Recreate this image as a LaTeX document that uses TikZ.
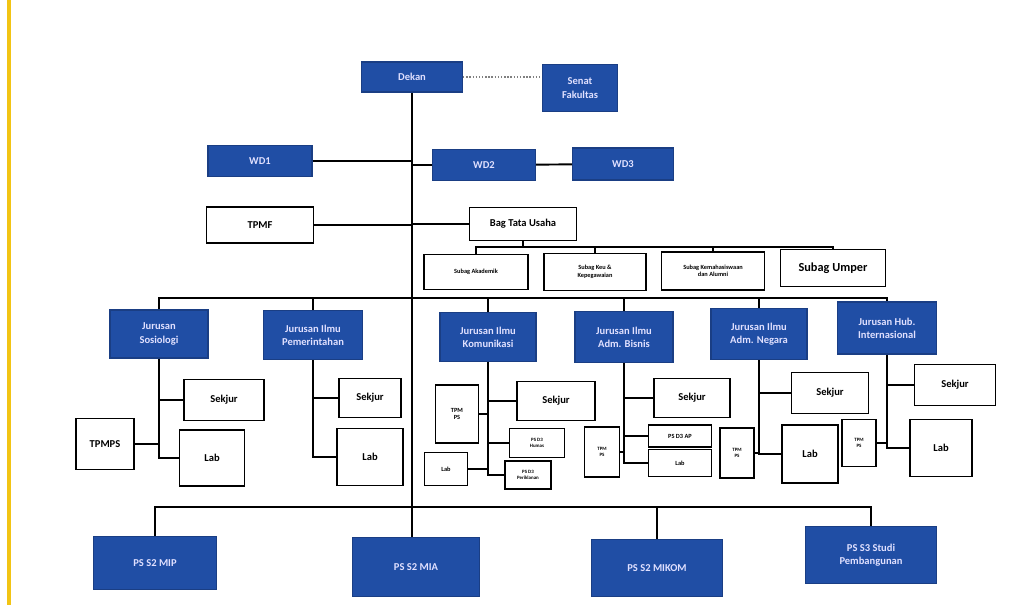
\documentclass[tikz,border=0pt]{standalone}
\usepackage{fontspec}
\setmainfont{Carlito}
\usetikzlibrary{calc}
\definecolor{orgblue}{RGB}{32,78,165}
\definecolor{edgeyel}{RGB}{242,196,20}

\tikzset{
	sz/.style 2 args={minimum width=#1*0.02cm, minimum height=#2*0.02cm},
	bluebox/.style={draw=orgblue!80!black, line width=0.6pt, fill=orgblue, text=white!88!blue, align=center, inner sep=1pt, font=\bfseries\fontsize{6}{7.5}\selectfont},
	whitebox/.style={draw, line width=1pt, fill=white, align=center, inner sep=1pt, font=\bfseries\fontsize{6}{7.5}\selectfont},
	smalltxt/.style={font=\bfseries\fontsize{3.6}{4.3}\selectfont},
	tinytxt/.style={font=\bfseries\fontsize{2.8}{3.4}\selectfont},
	link/.style={line width=1.1pt}
}

\begin{document}
\begin{tikzpicture}[x=0.02cm, y=-0.02cm]
\useasboundingbox (0,0) rectangle (1010,605);
\draw[line width=2pt, edgeyel] (9,0) -- (9,605);

% pimpinan
\node[bluebox, sz={101}{30}] (dekan) at (412,77) {Dekan};
\node[bluebox, sz={75}{47}] (senat) at (580,88) {Senat\\Fakultas};
\node[bluebox, sz={104}{31}] (wd1) at (260,161) {WD1};
\node[bluebox, sz={103}{31}] (wd2) at (484,165) {WD2};
\node[bluebox, sz={101}{32}] (wd3) at (623,164) {WD3};
\node[whitebox, sz={107}{36}] (tpmf) at (260,225) {TPMF};
\node[whitebox, sz={107}{33}] (btu) at (523,224) {Bag Tata Usaha};

% subbag
\node[whitebox, smalltxt, sz={104}{35}] (sakad) at (476,272) {Subag Akademik};
\node[whitebox, smalltxt, sz={102}{37}] (skeu) at (595,272) {Subag Keu \&\\Kepegawaian};
\node[whitebox, smalltxt, sz={103}{38}] (smhs) at (713,271) {Subag Kemahasiswaan\\dan Alumni};
\node[whitebox, font=\bfseries\fontsize{7}{8}\selectfont, sz={105}{37}] (sumper) at (833,268) {Subag Umper};

% jurusan
\node[bluebox, sz={98}{48}] (jsos) at (159,334) {Jurusan\\Sosiologi};
\node[bluebox, sz={99}{49}] (jpem) at (313,335) {Jurusan Ilmu\\Pemerintahan};
\node[bluebox, sz={96}{49}] (jkom) at (488,337) {Jurusan Ilmu\\Komunikasi};
\node[bluebox, sz={98}{51}] (jbis) at (624,337) {Jurusan Ilmu\\Adm. Bisnis};
\node[bluebox, sz={96}{51}] (jneg) at (759,334) {Jurusan Ilmu\\Adm. Negara};
\node[bluebox, sz={99}{52}] (jhi) at (887,328) {Jurusan Hub.\\Internasional};

% unit jurusan
\node[whitebox, sz={80}{41}] (sossek) at (224,400) {Sekjur};
\node[whitebox, sz={65}{56}] (soslab) at (212,458) {Lab};
\node[whitebox, sz={58}{51}] (tpmps) at (105,444) {TPMPS};
\node[whitebox, sz={62}{39}] (pemsek) at (370,398) {Sekjur};
\node[whitebox, sz={66}{57}] (pemlab) at (370,457) {Lab};
\node[whitebox, smalltxt, sz={43}{58}] (komtpm) at (457,414) {TPM\\PS};
\node[whitebox, sz={78}{39}] (komsek) at (556,401) {Sekjur};
\node[whitebox, tinytxt, sz={55}{29}] (komhms) at (537,443) {PS D3\\Humas};
\node[whitebox, smalltxt, sz={43}{33}] (komlab) at (446,469) {Lab};
\node[whitebox, tinytxt, sz={46}{28}] (komikl) at (528,475) {PS D3\\Periklanan};
\node[whitebox, tinytxt, sz={35}{50}] (bistpm) at (602,452) {TPM\\PS};
\node[whitebox, sz={76}{39}] (bissek) at (692,398) {Sekjur};
\node[whitebox, smalltxt, sz={63}{22}] (bisap) at (680,436) {PS D3 AP};
\node[whitebox, smalltxt, sz={63}{27}] (bislab) at (680,463) {Lab};
\node[whitebox, tinytxt, sz={34}{50}] (negtpm) at (737,453) {TPM\\PS};
\node[whitebox, sz={77}{41}] (negsek) at (830,393) {Sekjur};
\node[whitebox, sz={56}{58}] (neglab) at (810,454) {Lab};
\node[whitebox, tinytxt, sz={34}{47}] (hitpm) at (859,443) {TPM\\PS};
\node[whitebox, sz={81}{41}] (hisek) at (955,385) {Sekjur};
\node[whitebox, sz={62}{57}] (hilab) at (941,448) {Lab};

% program pascasarjana
\node[bluebox, sz={123}{53}] (mip) at (155,563) {PS S2 MIP};
\node[bluebox, sz={127}{59}] (mia) at (416,567) {PS S2 MIA};
\node[bluebox, sz={131}{57}] (mikom) at (657,568) {PS S2 MIKOM};
\node[bluebox, sz={131}{57}] (pss3) at (871,555) {PS S3 Studi\\Pembangunan};

\coordinate (sb) at (523,247);
\coordinate (jb) at (413,298);
\coordinate (pb) at (413,507);

% garis
\draw[densely dotted, gray, line width=0.8pt] (dekan.east) -- (dekan.east -| senat.west);
\draw[link] (dekan) -- (dekan |- mia.north);
\draw[link] (wd1) -- (wd1 -| dekan);
\draw[link] (dekan |- wd2) -- (wd2) -- (wd3);
\draw[link] (tpmf) -- (tpmf -| dekan);
\draw[link] (dekan |- btu) -- (btu);
\draw[link] (btu) -- (sb);
\draw[link] (sakad) -- (sakad |- sb) -- (sumper |- sb) -- (sumper);
\foreach \n in {skeu,smhs}
	\draw[link] (\n) -- (\n |- sb);
\draw[link] (jsos) -- (jsos |- jb) -- (jhi |- jb) -- (jhi);
\foreach \n in {jpem,jkom,jbis,jneg}
	\draw[link] (\n) -- (\n |- jb);

\draw[link] (jsos) -- (jsos |- soslab) -- (soslab);
\draw[link] (jsos |- sossek) -- (sossek);
\draw[link] (tpmps) -- (tpmps -| jsos);
\draw[link] (jpem) -- (jpem |- pemlab) -- (pemlab);
\draw[link] (jpem |- pemsek) -- (pemsek);
\draw[link] (jkom) -- (jkom |- komikl) -- (komikl);
\draw[link] (jkom |- komsek) -- (komsek);
\draw[link] (jkom |- komhms) -- (komhms);
\draw[link] (komtpm) -- (komtpm -| jkom);
\draw[link] (komlab) -- (komlab -| jkom);
\draw[link] (jbis) -- (jbis |- bislab) -- (bislab);
\draw[link] (jbis |- bissek) -- (bissek);
\draw[link] (jbis |- bisap) -- (bisap);
\draw[link] (bistpm) -- (bistpm -| jbis);
\draw[link] (jneg) -- (jneg |- neglab) -- (neglab);
\draw[link] (jneg |- negsek) -- (negsek);
\draw[link] (negtpm) -- (negtpm -| jneg);
\draw[link] (jhi) -- (jhi |- hilab) -- (hilab);
\draw[link] (jhi |- hisek) -- (hisek);
\draw[link] (hitpm) -- (hitpm -| jhi);

\draw[link] (mip) -- (mip |- pb) -- (pss3 |- pb) -- (pss3);
\draw[link] (mikom) -- (mikom |- pb);
\end{tikzpicture}
\end{document}
